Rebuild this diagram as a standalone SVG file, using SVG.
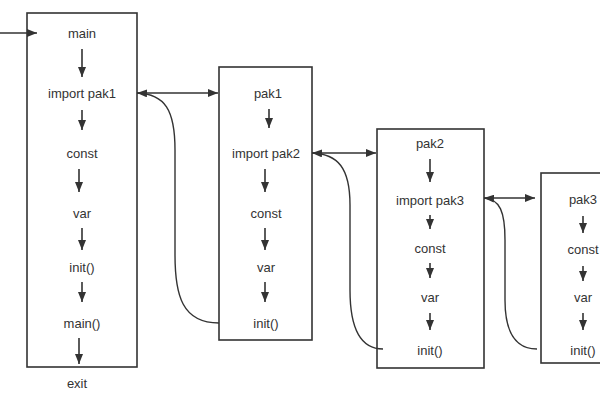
<svg xmlns="http://www.w3.org/2000/svg" width="600" height="400" viewBox="0 0 600 400">
<defs>
<marker id="ah" viewBox="0 0 10 8" refX="10" refY="4" markerWidth="10" markerHeight="8" markerUnits="userSpaceOnUse" orient="auto">
<path d="M0,0 L10,4 L0,8 Z" fill="#333"/>
</marker>
</defs>
<style>
.box{fill:#fff;stroke:#333;stroke-width:1.6}
.t{font-family:"Liberation Sans",Arial,sans-serif;font-size:13px;fill:#333;text-anchor:middle}
.ln{stroke:#333;stroke-width:1.6;fill:none;marker-end:url(#ah)}
.cv{stroke:#333;stroke-width:1.4;fill:none;marker-end:url(#ah)}
</style>
<rect width="600" height="400" fill="#fff"/>
<g id="main">
<rect class="box" x="27" y="13" width="110" height="354"/>
<text class="t" x="82" y="38">main</text>
<text class="t" x="82" y="98">import pak1</text>
<text class="t" x="82" y="158">const</text>
<text class="t" x="82" y="218">var</text>
<text class="t" x="82" y="272">init()</text>
<text class="t" x="82" y="328">main()</text>
<line class="ln" x1="82" y1="49" x2="82" y2="77"/>
<line class="ln" x1="82" y1="110" x2="82" y2="130"/>
<line class="ln" x1="79" y1="169" x2="79" y2="192"/>
<line class="ln" x1="82" y1="228" x2="82" y2="250"/>
<line class="ln" x1="82" y1="282" x2="82" y2="302"/>
<line class="ln" x1="79" y1="338" x2="79" y2="364"/>
</g>
<text id="exit" class="t" x="77" y="388">exit</text>
<g id="pak1">
<rect class="box" x="219" y="67" width="93" height="273"/>
<text class="t" x="268" y="98">pak1</text>
<text class="t" x="266" y="158">import pak2</text>
<text class="t" x="266" y="218">const</text>
<text class="t" x="266" y="272">var</text>
<text class="t" x="266" y="328">init()</text>
<line class="ln" x1="269" y1="109" x2="269" y2="128"/>
<line class="ln" x1="265" y1="169" x2="265" y2="192"/>
<line class="ln" x1="265" y1="228" x2="265" y2="250"/>
<line class="ln" x1="265" y1="282" x2="265" y2="302"/>
</g>
<g id="pak2">
<rect class="box" x="377" y="129" width="107" height="239"/>
<text class="t" x="430" y="148">pak2</text>
<text class="t" x="430" y="205">import pak3</text>
<text class="t" x="430" y="253">const</text>
<text class="t" x="430" y="302">var</text>
<text class="t" x="430" y="355">init()</text>
<line class="ln" x1="430" y1="159" x2="430" y2="182"/>
<line class="ln" x1="430" y1="215" x2="430" y2="229"/>
<line class="ln" x1="430" y1="263" x2="430" y2="278"/>
<line class="ln" x1="430" y1="313" x2="430" y2="330"/>
</g>
<g id="pak3">
<rect class="box" x="541" y="173" width="70" height="190"/>
<text class="t" x="583" y="204">pak3</text>
<text class="t" x="583" y="254">const</text>
<text class="t" x="583" y="302">var</text>
<text class="t" x="583" y="355">init()</text>
<line class="ln" x1="583" y1="216" x2="583" y2="233"/>
<line class="ln" x1="583" y1="266" x2="583" y2="281"/>
<line class="ln" x1="583" y1="313" x2="583" y2="330"/>
</g>
<g id="connectors">
<line class="ln" x1="0" y1="33" x2="37" y2="33"/>
<line class="ln" x1="137" y1="93" x2="218" y2="93"/>
<line class="ln" x1="312" y1="153" x2="376" y2="153"/>
<line class="ln" x1="484" y1="198" x2="535" y2="198"/>
<path class="cv" d="M219,323 C182,323 175,295 175,255 L175,150 C175,110 165,94 137,93"/>
<path class="cv" d="M383,349 C357,349 350,322 350,290 L350,205 C350,168 338,154 312,153"/>
<path class="cv" d="M537,349 C513,349 505,328 505,300 L505,240 C505,212 500,199 484,198"/>
</g>
</svg>
